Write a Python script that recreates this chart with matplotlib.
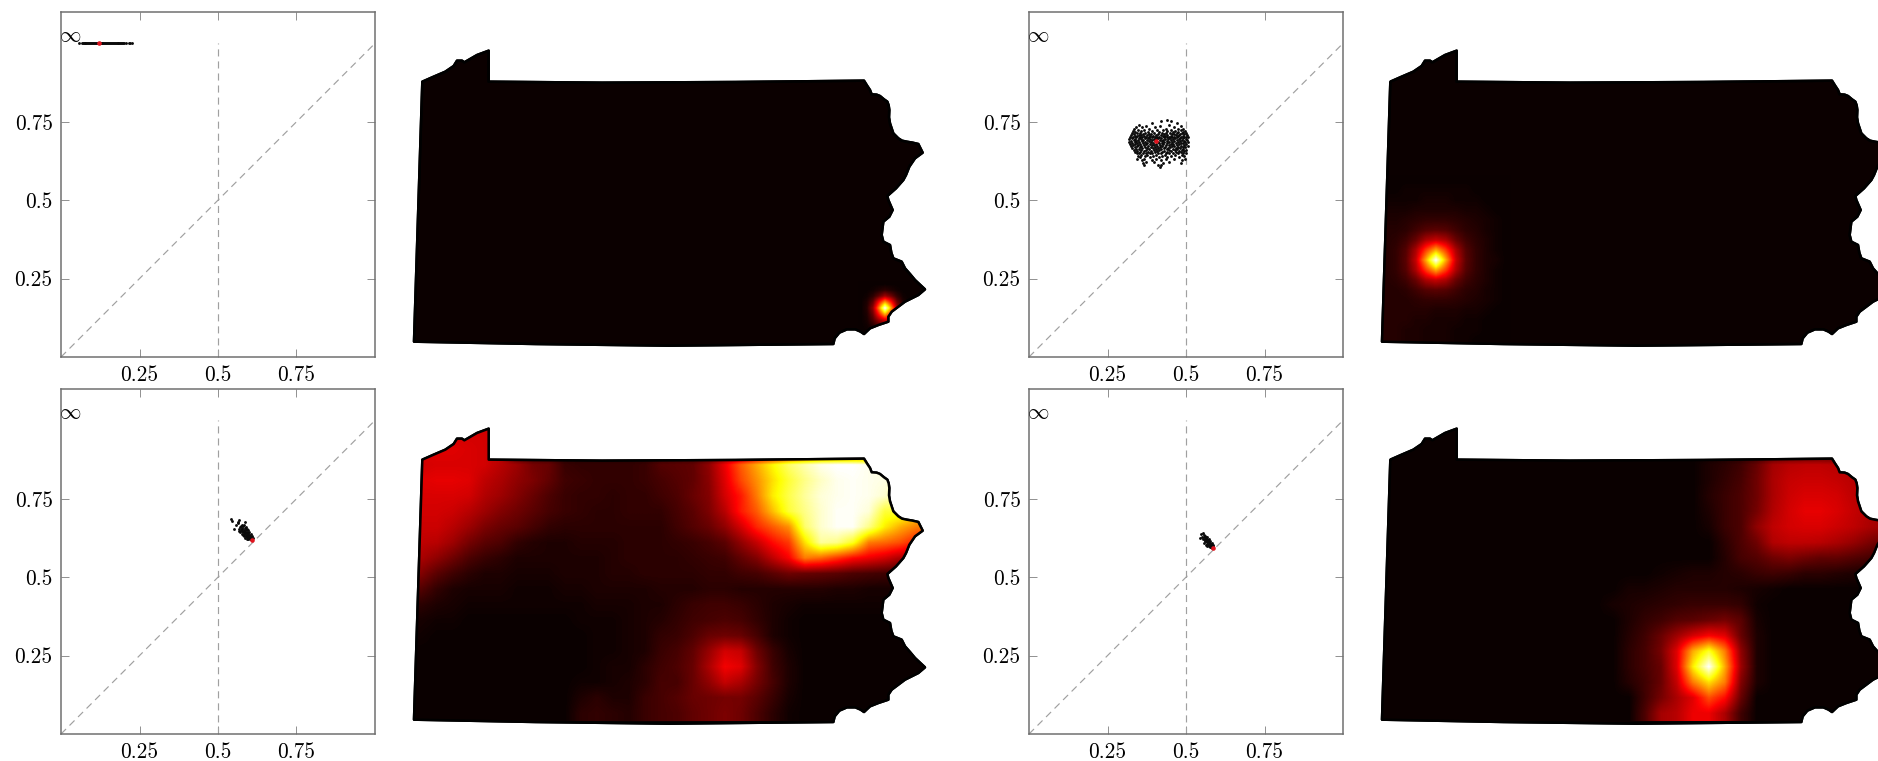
import numpy as np
import matplotlib
matplotlib.use("Agg")
import matplotlib.pyplot as plt
from matplotlib.patches import Polygon

plt.rcParams['font.family'] = ['cmr10', 'DejaVu Serif']
plt.rcParams['mathtext.fontset'] = 'cm'
plt.rcParams['axes.unicode_minus'] = False
plt.rcParams['axes.formatter.use_mathtext'] = True

W, H = 1878, 761

tick_vals = [0.25, 0.5, 0.75]
tick_labels = ['0.25', '0.5', '0.75']

# state outline, in crop units of the map panel
outline = [
    (61, 155), (95, 140), (130, 125), (155, 108), (165, 92), (180, 92), (187, 97), (225, 75),
    (260, 62), (260, 155), (600, 158), (1000, 156), (1386, 152), (1396, 168), (1404, 180), (1409, 193),
    (1424, 194), (1434, 198), (1446, 208), (1456, 215), (1460, 226), (1462, 240), (1461, 262),
    (1464, 280), (1474, 310), (1489, 325), (1500, 332), (1514, 335), (1532, 338),
    (1549, 342), (1562, 368), (1539, 385), (1522, 410), (1512, 435), (1504, 450), (1482, 475), (1456, 498),
    (1459, 510), (1472, 540), (1462, 560), (1444, 575), (1439, 615), (1444, 635), (1464, 645),
    (1468, 668), (1474, 685), (1499, 695), (1509, 715), (1524, 732), (1539, 750), (1569, 778), (1549, 795),
    (1509, 815), (1469, 845), (1459, 860), (1459, 875), (1429, 885), (1404, 895), (1386, 912),
    (1376, 905), (1360, 898), (1335, 898), (1312, 908), (1298, 925), (1294, 942),
    (800, 947), (400, 942), (36, 935),
]

# scatter clouds
tl_x = [.056, .066, .069, .072, .075, .078, .081, .084, .087, .090, .093, .096, .099, .102, .105,
        .108, .111, .114, .117, .120, .123, .126, .129, .132, .135, .138, .141, .144, .147, .150,
        .153, .156, .159, .162, .165, .168, .171, .174, .177, .180, .183, .186, .189, .192, .195,
        .198, .201, .208, .216, .220, .226]
tl_y = [1.0] * len(tl_x)

tr_levels = [.755, .751, .746, .741, .736, .732, .728, .724, .721, .718, .715, .712, .709, .706,
             .703, .700, .697, .694, .691, .688, .685, .682, .679, .676, .673, .670, .667, .664,
             .661, .658, .655, .652, .649, .645, .641, .637, .632, .627, .622, .617, .611, .607]
tr_rows = [
    [.438],
    [.421, .452],
    [.392, .470],
    [.349, .447],
    [.372, .418, .484],
    [.340, .361, .400, .461],
    [.334, .381, .436, .475, .490],
    [.346, .367, .409, .428, .452, .483],
    [.331, .356, .392, .441, .466, .497],
    [.339, .378, .415, .459, .476, .492],
    [.328, .344, .352, .371, .399, .423, .436, .448, .470, .487, .501],
    [.335, .362, .383, .390, .411, .430, .455, .463, .481, .495],
    [.326, .349, .357, .376, .404, .419, .441, .468, .478, .503],
    [.338, .345, .366, .386, .396, .426, .434, .452, .474, .491],
    [.322, .353, .373, .381, .408, .415, .445, .461, .485, .499],
    [.331, .342, .360, .391, .401, .429, .438, .457, .472, .494, .506],
    [.327, .350, .368, .378, .412, .421, .449, .466, .482, .489],
    [.320, .337, .356, .385, .397, .406, .433, .443, .460, .477, .500],
    [.333, .346, .364, .375, .392, .417, .427, .453, .471, .486, .503],
    [.325, .341, .359, .381, .402, .424, .438, .463, .480, .493],
    [.318, .336, .351, .370, .388, .410, .431, .447, .456, .475, .498, .507],
    [.329, .345, .362, .377, .396, .414, .422, .441, .468, .484, .490],
    [.322, .339, .355, .372, .384, .405, .428, .451, .459, .478, .501],
    [.332, .348, .366, .391, .399, .418, .436, .445, .472, .494],
    [.326, .343, .358, .380, .408, .425, .455, .463, .483, .505],
    [.336, .352, .369, .387, .402, .416, .433, .448, .476, .489, .497],
    [.329, .361, .375, .394, .412, .429, .442, .467, .481],
    [.340, .350, .383, .405, .421, .438, .458, .471, .492],
    [.334, .358, .372, .397, .415, .446, .464, .487, .500],
    [.345, .366, .389, .409, .431, .452, .478, .495],
    [.339, .355, .379, .400, .424, .441, .469, .484],
    [.350, .372, .393, .419, .436, .460, .490],
    [.343, .362, .385, .411, .447, .474, .499],
    [.356, .376, .403, .432, .466, .486],
    [.347, .369, .396, .425, .452, .493],
    [.352, .384, .414, .441, .479],
    [.344, .366, .405, .437, .463, .496],
    [.359, .391, .420, .488],
    [.372, .399, .447],
    [.362, .428, .484],
    [.365, .410, .421],
    [.418],
]

bl_pts = [(.541, .684), (.543, .679), (.568, .683), (.565, .677), (.563, .672), (.558, .665),
          (.552, .654), (.586, .677), (.572, .664), (.570, .660), (.575, .665), (.580, .662),
          (.585, .657), (.572, .652), (.578, .654), (.583, .650), (.589, .650), (.575, .646),
          (.581, .644), (.587, .643), (.592, .645), (.596, .640), (.584, .637), (.590, .636),
          (.595, .633), (.600, .634), (.588, .630), (.593, .627), (.598, .628), (.603, .627),
          (.596, .622), (.601, .621), (.606, .621), (.577, .658), (.582, .647), (.586, .640),
          (.591, .640), (.597, .636), (.602, .630), (.593, .634), (.599, .624), (.604, .624),
          (.566, .655), (.568, .647), (.571, .643), (.576, .639), (.580, .635), (.584, .630),
          (.587, .625), (.591, .621), (.583, .666), (.588, .660), (.592, .655), (.596, .650),
          (.600, .644), (.604, .638), (.607, .632), (.610, .626)]

br_pts = [(.548, .637), (.553, .640), (.557, .636), (.546, .625), (.551, .628), (.557, .628),
          (.561, .632), (.564, .627), (.559, .622), (.554, .621), (.562, .618), (.567, .622),
          (.570, .618), (.565, .615), (.560, .614), (.568, .611), (.573, .613), (.576, .610),
          (.571, .607), (.566, .606), (.574, .604), (.579, .606), (.582, .602), (.577, .600),
          (.572, .600), (.581, .597), (.585, .598), (.578, .595), (.583, .593), (.563, .624),
          (.569, .614), (.575, .607), (.580, .600), (.568, .628), (.574, .621), (.578, .615),
          (.583, .609), (.587, .604), (.558, .610), (.563, .603), (.568, .598)]

# red marks
red_x = [.122, .406, .609, .587]
red_y = [1.0, .688, .617, .593]

# heat map values in percent, panels 3 and 4 cover the whole state box
heat3 = [
    [30, 30, 30, 30, 30, 28] + [0] * 26,
    [32, 32, 32, 31, 30, 26] + [0] * 26,
    [30, 31, 31, 31, 30, 26, 22, 16, 14, 7, 6, 6, 6, 6, 7, 11, 12, 13, 20, 34, 50, 62, 74, 85, 92, 98, 100, 100, 98, 95, 90, 85],
    [32, 33, 33, 32, 27, 24, 20, 17, 13, 8, 7, 6, 6, 6, 7, 9, 11, 13, 19, 32, 47, 58, 70, 80, 88, 94, 98, 99, 98, 97, 90, 85],
    [31, 31, 31, 30, 25, 22, 18, 14, 10, 7, 6, 6, 5, 6, 6, 8, 10, 14, 18, 30, 40, 55, 72, 82, 90, 96, 98, 99, 98, 95, 88, 80],
    [30, 30, 29, 26, 22, 18, 15, 12, 9, 7, 6, 5, 5, 6, 6, 6, 9, 12, 17, 26, 40, 50, 65, 80, 88, 95, 99, 99, 96, 80, 80, 70],
    [29, 29, 26, 22, 17, 14, 12, 9, 6, 5, 5, 5, 5, 5, 5, 5, 8, 11, 14, 20, 30, 42, 50, 58, 85, 95, 99, 99, 88, 72, 62, 55],
    [27, 26, 22, 16, 12, 10, 6, 4, 3, 3, 4, 4, 4, 5, 5, 5, 6, 7, 9, 12, 20, 28, 38, 45, 70, 90, 88, 78, 55, 52, 48, 40],
    [24, 20, 15, 10, 7, 5, 3, 3, 3, 3, 3, 3, 4, 5, 5, 5, 5, 6, 7, 8, 13, 18, 27, 36, 55, 52, 45, 38, 34, 30, 24, 20],
    [18, 12, 8, 5, 3, 3, 2, 2, 2, 3, 3, 3, 4, 4, 5, 5, 5, 5, 6, 6, 8, 9, 12, 15, 14, 13, 12, 10, 9, 8, 7, 6],
    [11, 6, 3, 2, 2, 2, 1, 1, 1, 2, 2, 3, 3, 3, 3, 4, 4, 4, 5, 5, 4, 4, 4, 4, 4, 4, 3, 3, 2, 2, 2, 2],
    [5, 3, 2, 1, 1, 1, 1, 1, 1, 1, 1, 2, 2, 2, 3, 3, 5, 7, 8, 8, 7, 5, 3, 2, 1, 1, 1, 1, 1, 1, 1, 1],
    [2, 1, 1, 0, 0, 0, 0, 0, 0, 0, 1, 1, 1, 2, 3, 4, 6, 8, 9, 10, 9, 6, 3, 1, 0, 0, 0, 0, 0, 0, 0, 0],
    [1, 0, 0, 0, 0, 0, 0, 0, 0, 0, 0, 1, 1, 2, 3, 6, 7, 10, 14, 15, 14, 9, 3, 1, 0, 0, 0, 0, 0, 0, 0, 0],
    [0] * 10 + [0, 1, 1, 2, 3, 7, 9, 13, 21, 30, 28, 15, 7, 2] + [0] * 8,
    [0] * 10 + [0, 1, 2, 2, 5, 8, 10, 14, 24, 35, 32, 18, 8, 3] + [0] * 8,
    [0] * 10 + [1, 1, 2, 3, 5, 9, 9, 14, 20, 28, 24, 16, 9, 3] + [0] * 8,
    [0] * 10 + [3, 5, 3, 3, 7, 9, 11, 14, 15, 16, 16, 12, 7, 2] + [0] * 8,
    [0] * 10 + [5, 6, 5, 4, 7, 9, 10, 13, 15, 17, 15, 10, 5, 1] + [0] * 8,
]

heat4 = [
    [0] * 32,
    [0] * 32,
    [0] * 20 + [3, 5, 8, 14, 23, 26, 27, 27, 26, 24, 22, 20],
    [0] * 20 + [3, 6, 9, 15, 24, 28, 29, 29, 28, 26, 24, 22],
    [0] * 20 + [4, 7, 10, 15, 24, 29, 31, 31, 30, 27, 25, 22],
    [0] * 20 + [3, 7, 10, 16, 25, 30, 33, 33, 31, 28, 25, 22],
    [0] * 20 + [2, 7, 10, 20, 27, 30, 31, 31, 29, 27, 24, 22],
    [0] * 21 + [5, 10, 15, 25, 27, 27, 26, 24, 21, 17, 13],
    [0] * 21 + [4, 9, 11, 15, 17, 15, 13, 13, 11, 9, 6],
    [0] * 17 + [1, 2, 3, 3, 4, 5, 7, 8, 7, 5, 5, 4, 3, 2, 1],
    [0] * 15 + [2, 2, 3, 4, 4, 4, 4, 3, 2, 1] + [0] * 7,
    [0] * 14 + [2, 3, 4, 5, 6, 7, 7, 7, 6, 1] + [0] * 8,
    [0] * 15 + [3, 6, 8, 11, 12, 14, 16, 12, 2] + [0] * 8,
    [0] * 15 + [4, 8, 14, 22, 30, 36, 32, 14, 3] + [0] * 8,
    [0] * 15 + [5, 9, 16, 32, 62, 78, 55, 20, 3] + [0] * 8,
    [0] * 15 + [5, 9, 14, 32, 72, 100, 62, 22, 3] + [0] * 8,
    [0] * 15 + [4, 8, 14, 28, 55, 70, 55, 18, 3] + [0] * 8,
    [0] * 15 + [0, 8, 16, 24, 32, 48, 38, 14, 0] + [0] * 8,
    [0] * 15 + [0, 10, 23, 26, 34, 34, 24, 8, 0] + [0] * 8,
]

# panels 1 and 2 are only a small hot patch on black
heat1 = [
    [0, 0, 0, 0, 0, 0, 0, 0, 0],
    [0, 0, 1, 3, 5, 3, 1, 0, 0],
    [0, 1, 5, 13, 22, 15, 6, 1, 0],
    [0, 3, 13, 38, 60, 40, 15, 3, 0],
    [0, 4, 20, 56, 100, 62, 22, 5, 0],
    [0, 3, 15, 40, 64, 42, 17, 4, 0],
    [0, 2, 10, 22, 30, 24, 12, 3, 0],
    [0, 1, 4, 9, 14, 11, 5, 1, 0],
    [0, 0, 1, 3, 4, 3, 1, 0, 0],
]

heat2 = [
    [0, 0, 0, 0, 0, 0, 0, 0, 0, 0, 0, 0, 0],
    [0, 0, 1, 1, 1, 1, 1, 1, 1, 0, 0, 0, 0],
    [1, 1, 1, 1, 2, 2, 2, 1, 1, 1, 0, 0, 0],
    [2, 2, 2, 3, 3, 3, 3, 3, 2, 2, 1, 0, 0],
    [3, 3, 4, 5, 6, 6, 6, 5, 4, 3, 2, 1, 0],
    [4, 4, 5, 8, 11, 12, 11, 8, 5, 4, 2, 1, 0],
    [4, 5, 8, 14, 24, 28, 24, 14, 8, 5, 3, 1, 0],
    [4, 6, 11, 24, 45, 62, 45, 24, 11, 6, 3, 1, 0],
    [4, 6, 12, 28, 62, 100, 62, 28, 12, 6, 3, 2, 0],
    [4, 6, 11, 24, 45, 62, 45, 24, 11, 6, 3, 1, 0],
    [4, 5, 8, 14, 24, 28, 24, 14, 8, 5, 3, 1, 0],
    [4, 4, 5, 8, 11, 12, 11, 8, 5, 4, 2, 1, 0],
    [4, 4, 4, 5, 6, 6, 6, 5, 4, 3, 2, 1, 0],
    [4, 4, 4, 4, 4, 3, 3, 3, 2, 2, 1, 0, 0],
    [4, 4, 4, 3, 3, 2, 2, 2, 1, 1, 0, 0, 0],
    [4, 4, 3, 3, 2, 2, 2, 1, 1, 1, 0, 0, 0],
    [4, 4, 3, 3, 2, 2, 2, 1, 1, 0, 0, 0, 0],
]

box_full = (33, 1569, 940, 55)
box_1 = (1368, 1530, 915, 753)
box_2 = (32, 422, 945, 435)


def px_rect(x0, y0, x1, y1):
    return [x0 / W, 1 - y1 / H, (x1 - x0) / W, (y1 - y0) / H]


def scatter_panel(x0, y0, xs, ys, rx, ry):
    ax = fig.add_axes(px_rect(x0, y0, x0 + 314, y0 + 345))
    ax.set_xlim(0, 1)
    ax.set_ylim(0, 1.1)
    ax.plot([0, 1], [0, 1], color='#a0a0a0', lw=0.85, ls=(0, (6, 4.2)))
    ax.plot([0.5, 0.5], [0, 1], color='#a0a0a0', lw=0.85, ls=(0, (6, 4.2)))
    pts = ax.scatter(xs, ys, s=4.2, color='#0a0a0a', linewidths=0, zorder=3)
    pts.set_snap(False)
    red = ax.scatter([rx], [ry], s=11, color='#e0141e', linewidths=0, zorder=4)
    red.set_snap(False)
    ax.text(-0.006, 1.023, r'$\infty$', fontsize=15.5, ha='left', va='center', color='black')
    ax.set_xticks(tick_vals)
    ax.set_xticklabels(tick_labels)
    ax.set_yticks(tick_vals)
    ax.set_yticklabels(tick_labels)
    ax.tick_params(direction='in', top=True, right=True, length=6, width=0.7, color='#909090',
                   labelsize=15.4, pad=6)
    for s in ax.spines.values():
        s.set_color('#707070')
        s.set_linewidth(1.1)
    return ax


def map_panel(ox, oy, grid, box):
    ax = fig.add_axes(px_rect(ox, oy, ox + 540, oy + 340))
    ax.axis('off')
    shape = Polygon(outline, closed=True, facecolor=plt.cm.hot(0.0), edgecolor='black',
                    linewidth=1.8, joinstyle='round', zorder=1)
    ax.add_patch(shape)
    im = ax.imshow(np.array(grid) / 100.0, extent=box, cmap='hot', vmin=0, vmax=1, aspect='auto',
                   interpolation='bilinear', interpolation_stage='data', zorder=2)
    im.set_clip_path(shape)
    edge = Polygon(outline, closed=True, fill=False, edgecolor='black', linewidth=1.8,
                   joinstyle='round', zorder=3)
    ax.add_patch(edge)
    ax.set_xlim(0, 1620)
    ax.set_ylim(1020, 0)
    return ax


fig = plt.figure(figsize=(W / 100, H / 100), dpi=100, facecolor='white')

tr_x = [x for row in tr_rows for x in row]
tr_y = [lv for lv, row in zip(tr_levels, tr_rows) for x in row]
bl_x, bl_y = zip(*bl_pts)
br_x, br_y = zip(*br_pts)

scatter_panel(61, 12, tl_x, tl_y, red_x[0], red_y[0])
scatter_panel(1029, 12, tr_x, tr_y, red_x[1], red_y[1])
scatter_panel(61, 389, bl_x, bl_y, red_x[2], red_y[2])
scatter_panel(1029, 389, br_x, br_y, red_x[3], red_y[3])

map_panel(402, 30, heat1, box_1)
map_panel(1370, 30, heat2, box_2)
map_panel(402, 408, heat3, box_full)
map_panel(1370, 408, heat4, box_full)

fig.savefig('out.png', dpi=100)
